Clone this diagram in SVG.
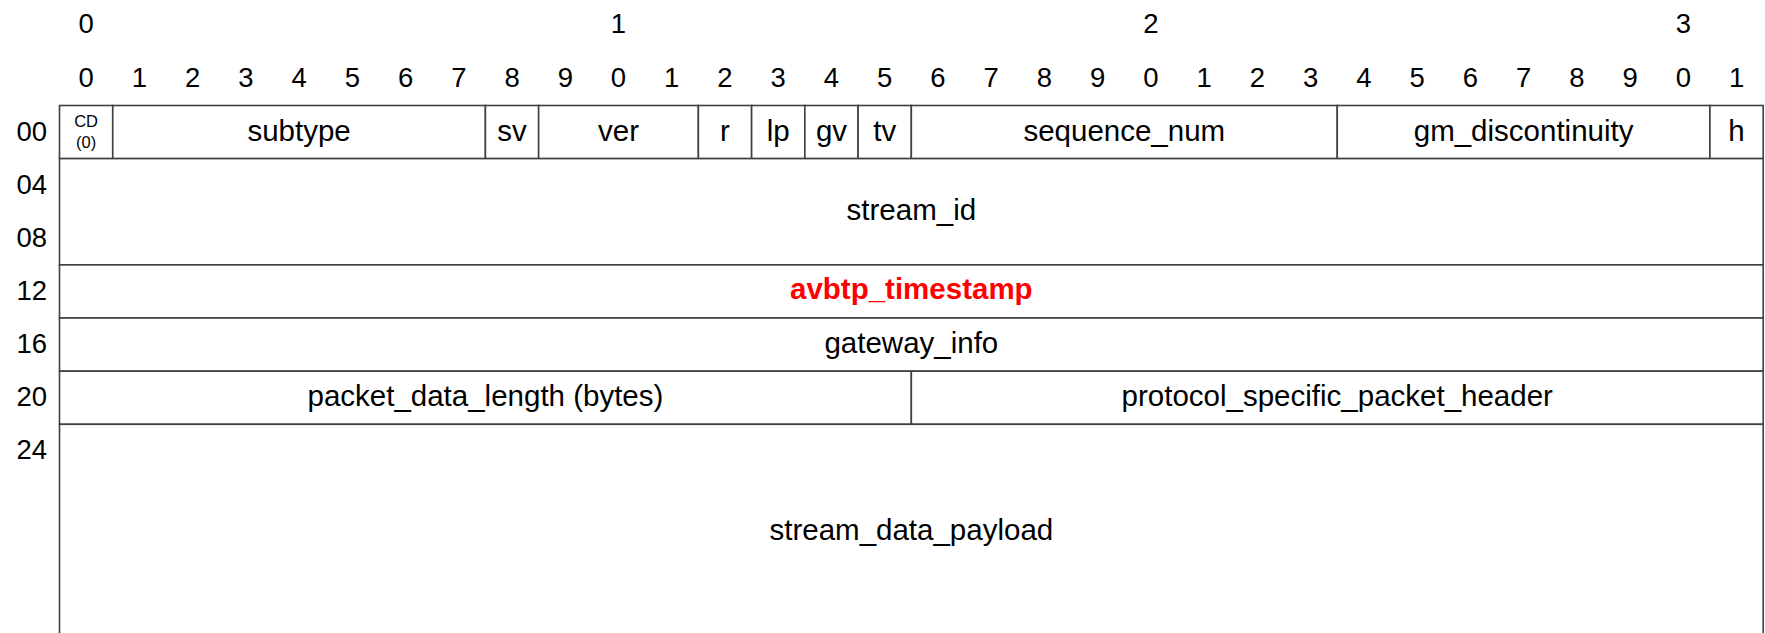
<svg xmlns="http://www.w3.org/2000/svg" width="1765" height="633" viewBox="0 0 1765 633">
<style>
  text { font-family: "Liberation Sans", Arial, sans-serif; fill: #000; }
  .num { font-size: 27.5px; text-anchor: middle; }
  .lbl { font-size: 27.5px; text-anchor: end; }
  .f { font-size: 29.5px; text-anchor: middle; }
  .s { font-size: 16.5px; text-anchor: middle; }
  .hl { font-size: 29.5px; font-weight: bold; fill: #FF0000; text-anchor: middle; }
  .box { fill: #fff; stroke: #404040; stroke-width: 1.6; }
</style>
<rect width="1765" height="633" fill="#fff"/>
<g id="bit-header">
  <text class="num" x="86.12" y="33.3">0</text>
  <text class="num" x="618.52" y="33.3">1</text>
  <text class="num" x="1150.92" y="33.3">2</text>
  <text class="num" x="1683.32" y="33.3">3</text>
  <text class="num" x="86.12" y="87.3">0</text>
  <text class="num" x="139.36" y="87.3">1</text>
  <text class="num" x="192.6" y="87.3">2</text>
  <text class="num" x="245.84" y="87.3">3</text>
  <text class="num" x="299.08" y="87.3">4</text>
  <text class="num" x="352.32" y="87.3">5</text>
  <text class="num" x="405.56" y="87.3">6</text>
  <text class="num" x="458.8" y="87.3">7</text>
  <text class="num" x="512.04" y="87.3">8</text>
  <text class="num" x="565.28" y="87.3">9</text>
  <text class="num" x="618.52" y="87.3">0</text>
  <text class="num" x="671.76" y="87.3">1</text>
  <text class="num" x="725" y="87.3">2</text>
  <text class="num" x="778.24" y="87.3">3</text>
  <text class="num" x="831.48" y="87.3">4</text>
  <text class="num" x="884.72" y="87.3">5</text>
  <text class="num" x="937.96" y="87.3">6</text>
  <text class="num" x="991.2" y="87.3">7</text>
  <text class="num" x="1044.44" y="87.3">8</text>
  <text class="num" x="1097.68" y="87.3">9</text>
  <text class="num" x="1150.92" y="87.3">0</text>
  <text class="num" x="1204.16" y="87.3">1</text>
  <text class="num" x="1257.4" y="87.3">2</text>
  <text class="num" x="1310.64" y="87.3">3</text>
  <text class="num" x="1363.88" y="87.3">4</text>
  <text class="num" x="1417.12" y="87.3">5</text>
  <text class="num" x="1470.36" y="87.3">6</text>
  <text class="num" x="1523.6" y="87.3">7</text>
  <text class="num" x="1576.84" y="87.3">8</text>
  <text class="num" x="1630.08" y="87.3">9</text>
  <text class="num" x="1683.32" y="87.3">0</text>
  <text class="num" x="1736.56" y="87.3">1</text>
</g>
<g id="row-offsets">
  <text class="lbl" x="47" y="140.5">00</text>
  <text class="lbl" x="47" y="193.6">04</text>
  <text class="lbl" x="47" y="246.7">08</text>
  <text class="lbl" x="47" y="299.9">12</text>
  <text class="lbl" x="47" y="353">16</text>
  <text class="lbl" x="47" y="406.2">20</text>
  <text class="lbl" x="47" y="459.3">24</text>
</g>
<g id="cd">
  <rect class="box" x="59.5" y="105.5" width="53.24" height="53.1"/>
  <text class="s" x="86.12" y="127">CD</text>
  <text class="s" x="86.12" y="147.5">(0)</text>
</g>
<g id="subtype">
  <rect class="box" x="112.74" y="105.5" width="372.68" height="53.1"/>
  <text class="f" x="299.08" y="140.5">subtype</text>
</g>
<g id="sv">
  <rect class="box" x="485.42" y="105.5" width="53.24" height="53.1"/>
  <text class="f" x="512.04" y="140.5">sv</text>
</g>
<g id="ver">
  <rect class="box" x="538.66" y="105.5" width="159.72" height="53.1"/>
  <text class="f" x="618.52" y="140.5">ver</text>
</g>
<g id="r">
  <rect class="box" x="698.38" y="105.5" width="53.24" height="53.1"/>
  <text class="f" x="725" y="140.5">r</text>
</g>
<g id="lp">
  <rect class="box" x="751.62" y="105.5" width="53.24" height="53.1"/>
  <text class="f" x="778.24" y="140.5">lp</text>
</g>
<g id="gv">
  <rect class="box" x="804.86" y="105.5" width="53.24" height="53.1"/>
  <text class="f" x="831.48" y="140.5">gv</text>
</g>
<g id="tv">
  <rect class="box" x="858.1" y="105.5" width="53.24" height="53.1"/>
  <text class="f" x="884.72" y="140.5">tv</text>
</g>
<g id="sequence_num">
  <rect class="box" x="911.34" y="105.5" width="425.92" height="53.1"/>
  <text class="f" x="1124.3" y="140.5">sequence_num</text>
</g>
<g id="gm_discontinuity">
  <rect class="box" x="1337.26" y="105.5" width="372.68" height="53.1"/>
  <text class="f" x="1523.6" y="140.5">gm_discontinuity</text>
</g>
<g id="h">
  <rect class="box" x="1709.94" y="105.5" width="53.24" height="53.1"/>
  <text class="f" x="1736.56" y="140.5">h</text>
</g>
<g id="stream_id">
  <rect class="box" x="59.5" y="158.6" width="1703.68" height="106.3"/>
  <text class="f" x="911.34" y="220">stream_id</text>
</g>
<g id="avbtp_timestamp">
  <rect class="box" x="59.5" y="264.9" width="1703.68" height="53.1"/>
  <text class="hl" x="911.34" y="299">avbtp_timestamp</text>
</g>
<g id="gateway_info">
  <rect class="box" x="59.5" y="318" width="1703.68" height="53.2"/>
  <text class="f" x="911.34" y="352.5">gateway_info</text>
</g>
<g id="packet_data_length">
  <rect class="box" x="59.5" y="371.2" width="851.84" height="53.1"/>
  <text class="f" x="485.42" y="406">packet_data_length (bytes)</text>
</g>
<g id="protocol_specific_packet_header">
  <rect class="box" x="911.34" y="371.2" width="851.84" height="53.1"/>
  <text class="f" x="1337.26" y="406">protocol_specific_packet_header</text>
</g>
<g id="stream_data_payload">
  <rect class="box" x="59.5" y="424.3" width="1703.68" height="240"/>
  <text class="f" x="911.34" y="540">stream_data_payload</text>
</g>
<g id="connectors"></g>
</svg>
